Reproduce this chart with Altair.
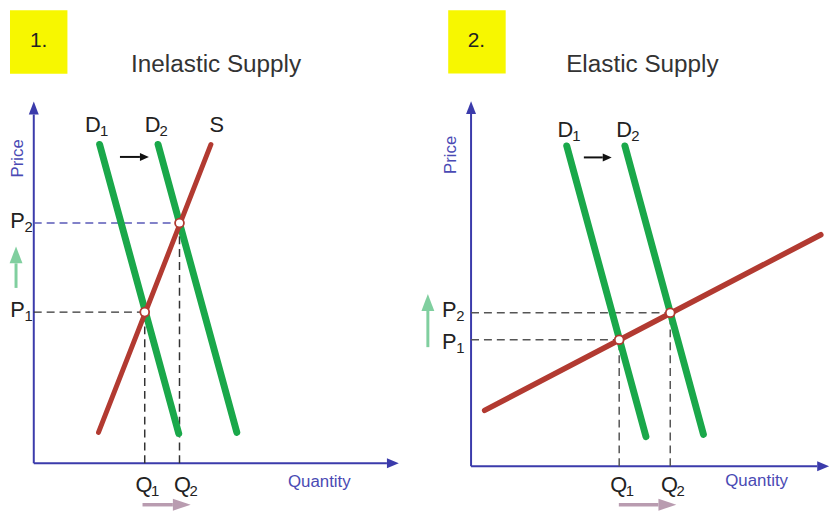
import altair as alt
import pandas as pd

FONT = "Liberation Sans"
TEXT = "#222222"
AXIS = "#3b3bab"
AXIS_TEXT = "#4a4ab4"
GREEN = "#1aa84a"
RED = "#b23a31"
YELLOW = "#f7f700"
LIGHT_GREEN = "#80cf9f"
MAUVE = "#b99cb0"

# ---------------- values (axis units 0-10) ----------------
# Panel 1: inelastic supply
INEL_TITLE = ("Inelastic Supply", 4.93, 10.86)
INEL_TAG = ("1.", 0.13, 11.50)
INEL_TAG_BOX = (-0.643, 12.35, 0.91, 10.62)
INEL_D1 = (1.78, 8.69, 3.92, 0.81)
INEL_D2 = (3.36, 8.69, 5.49, 0.84)
INEL_S = (1.75, 0.84, 4.79, 8.69)
INEL_EQ_Q = [3.00, 3.94]
INEL_EQ_P = [4.12, 6.55]
INEL_LETTERS = ["D", "D", "S", "P", "P", "Q", "Q"]
INEL_SUBS = ["1", "2", "", "2", "1", "1", "2"]
INEL_LBL_Q = [1.60, 3.21, 4.95, -0.44, -0.44, 2.98, 4.02]
INEL_LBL_P = [9.22, 9.22, 9.22, 6.60, 4.17, -0.60, -0.60]
INEL_PRICE = (-0.43, 8.31)
INEL_QTY = (7.72, -0.51)
INEL_AXIS_TIP = (9.87, 9.86)
INEL_SHIFT = (2.33, 2.87, 8.35)          # shaft start, shaft end, price
INEL_P_ARROW = (-0.48, 4.78, 5.45)       # q, shaft start, shaft end
INEL_Q_ARROW = (2.94, 3.76, -1.13)       # shaft start, shaft end, price

# Panel 2: elastic supply
EL_TITLE = ("Elastic Supply", 4.80, 10.84)
EL_TAG = ("2.", 0.15, 11.49)
EL_TAG_BOX = (-0.64, 12.33, 0.97, 10.62)
EL_D1 = (2.68, 8.66, 4.90, 0.80)
EL_D2 = (4.31, 8.66, 6.51, 0.86)
EL_S = (0.38, 1.51, 9.80, 6.26)
EL_EQ_Q = [4.15, 5.58]
EL_EQ_P = [3.42, 4.15]
EL_LETTERS = ["D", "D", "P", "P", "Q", "Q"]
EL_SUBS = ["1", "2", "2", "1", "1", "2"]
EL_LBL_Q = [2.64, 4.29, -0.61, -0.61, 4.14, 5.56]
EL_LBL_P = [9.09, 9.09, 4.21, 3.36, -0.50, -0.50]
EL_PRICE = (-0.57, 8.42)
EL_QTY = (8.00, -0.40)
EL_AXIS_TIP = (10.03, 9.87)
EL_SHIFT = (3.16, 3.69, 8.35)
EL_P_ARROW = (-1.21, 3.22, 4.20)
EL_Q_ARROW = (4.14, 5.25, -1.04)


def head_right(length, half):
    return f"M{length},0L0,{-half}L0,{half}Z"


def head_up(length, half):
    return f"M0,{-length}L{-half},0L{half},0Z"


def panel(cfg, width, height, px_q, px_p):
    xs = alt.Scale(domain=[0, 10], nice=False, zero=False)
    ys = alt.Scale(domain=[0, 10], nice=False, zero=False)

    def X(f="q"):
        return alt.X(f"{f}:Q", scale=xs, axis=None)

    def Y(f="p"):
        return alt.Y(f"{f}:Q", scale=ys, axis=None)

    def segs(rows, **mk):
        df = pd.DataFrame(rows, columns=["q", "p", "q2", "p2"])
        return alt.Chart(df).mark_rule(**mk).encode(
            x=X(), y=Y(), x2=alt.X2("q2:Q"), y2=alt.Y2("p2:Q"))

    def head(q, p, path, color):
        df = pd.DataFrame({"q": [q], "p": [p]})
        return alt.Chart(df).mark_point(
            shape=path, filled=True, color=color, size=4, opacity=1,
            strokeWidth=0).encode(x=X(), y=Y())

    def text(rows, **mk):
        df = pd.DataFrame(rows, columns=["t", "q", "p"])
        return alt.Chart(df).mark_text(font=FONT, **mk).encode(
            x=X(), y=Y(), text="t:N")

    layers = []
    # yellow tag box and number
    b = cfg["box"]
    box_df = pd.DataFrame([b], columns=["q", "p", "q2", "p2"])
    layers.append(alt.Chart(box_df).mark_rect(color=YELLOW)
                  .encode(x=X(), y=Y(), x2=alt.X2("q2:Q"), y2=alt.Y2("p2:Q")))
    layers.append(text([cfg["tag"]], fontSize=21, color="#222"))
    layers.append(text([cfg["title"]], fontSize=24.5, color="#333"))
    # axis titles
    layers.append(text([("Price",) + cfg["price"]], fontSize=17,
                       color=AXIS_TEXT, angle=270))
    layers.append(text([("Quantity",) + cfg["qty"]], fontSize=17,
                       color=AXIS_TEXT))
    # axes with arrowheads
    tq, tp = cfg["tip"]
    yb = tp - 13 / px_p
    xb = tq - 12 / px_q
    layers.append(segs([(0, 0, 0, yb), (0, 0, xb, 0)], color=AXIS,
                       strokeWidth=2))
    layers.append(head(0, yb, head_up(13, 5), AXIS))
    layers.append(head(xb, 0, head_right(12, 5), AXIS))
    # dashed guide lines
    eq_q, eq_p = cfg["eq_q"], cfg["eq_p"]
    for i in range(2):
        layers.append(segs([(0, eq_p[i], eq_q[i], eq_p[i])],
                           color=cfg["hdash"][i], strokeWidth=1.5,
                           strokeDash=[8, 5]))
        layers.append(segs([(eq_q[i], 0, eq_q[i], eq_p[i])],
                           color=cfg["vdash"], strokeWidth=1.5,
                           strokeDash=[8, 5]))
    # demand and supply
    layers.append(segs([cfg["d1"], cfg["d2"]], color=GREEN, strokeWidth=7,
                       strokeCap="round"))
    layers.append(segs([cfg["s"]], color=RED, strokeWidth=cfg["sw"],
                       strokeCap="round"))
    # demand shift arrow
    s0, s1, sp = cfg["shift"]
    layers.append(segs([(s0, sp, s1, sp)], color="#111", strokeWidth=2))
    layers.append(head(s1, sp, head_right(9, 4), "#111"))
    # price change arrow (green, upward)
    gq, g0, g1 = cfg["parrow"]
    layers.append(segs([(gq, g0, gq, g1)], color=LIGHT_GREEN, strokeWidth=3))
    layers.append(head(gq, g1, head_up(17, 6.5), LIGHT_GREEN))
    # quantity change arrow (mauve, rightward)
    m0, m1, mp = cfg["qarrow"]
    layers.append(segs([(m0, mp, m1, mp)], color=MAUVE, strokeWidth=3.5))
    layers.append(head(m1, mp, head_right(18, 6), MAUVE))
    # equilibrium points
    eq_df = pd.DataFrame({"q": eq_q, "p": eq_p})
    layers.append(alt.Chart(eq_df).mark_circle(
        size=80, color="white", stroke=RED, strokeWidth=1.8, opacity=1)
        .encode(x=X(), y=Y()))
    # curve and axis letter labels with subscripts
    lbl = pd.DataFrame({"t": cfg["letters"], "s": cfg["subs"],
                        "q": cfg["lq"], "p": cfg["lp"]})
    layers.append(alt.Chart(lbl).mark_text(
        font=FONT, fontSize=22, color=TEXT).encode(x=X(), y=Y(), text="t:N"))
    layers.append(alt.Chart(lbl).mark_text(
        font=FONT, fontSize=15, color=TEXT, align="left", dx=7, dy=6)
        .encode(x=X(), y=Y(), text="s:N"))

    return alt.layer(*layers).properties(width=width, height=height)


inel_cfg = dict(
    box=INEL_TAG_BOX, tag=INEL_TAG, title=INEL_TITLE, price=INEL_PRICE,
    qty=INEL_QTY, tip=INEL_AXIS_TIP, eq_q=INEL_EQ_Q, eq_p=INEL_EQ_P,
    hdash=["#333333", "#5a5ab8"], vdash="#333333", d1=INEL_D1, d2=INEL_D2,
    s=INEL_S, sw=5, shift=INEL_SHIFT, parrow=INEL_P_ARROW,
    qarrow=INEL_Q_ARROW, letters=INEL_LETTERS, subs=INEL_SUBS,
    lq=INEL_LBL_Q, lp=INEL_LBL_P)

el_cfg = dict(
    box=EL_TAG_BOX, tag=EL_TAG, title=EL_TITLE, price=EL_PRICE,
    qty=EL_QTY, tip=EL_AXIS_TIP, eq_q=EL_EQ_Q, eq_p=EL_EQ_P,
    hdash=["#555555", "#555555"], vdash="#555555", d1=EL_D1, d2=EL_D2,
    s=EL_S, sw=5.5, shift=EL_SHIFT, parrow=EL_P_ARROW,
    qarrow=EL_Q_ARROW, letters=EL_LETTERS, subs=EL_SUBS,
    lq=EL_LBL_Q, lp=EL_LBL_P)

left = panel(inel_cfg, 373, 370, 37.3, 37.0)
right = panel(el_cfg, 360, 373, 36.0, 37.3)

chart = alt.hconcat(left, right, spacing=68, bounds="flush").properties(
    padding=0
).configure_view(stroke=None)

chart.save("out.html", embed_options={"renderer": "svg", "actions": False})
